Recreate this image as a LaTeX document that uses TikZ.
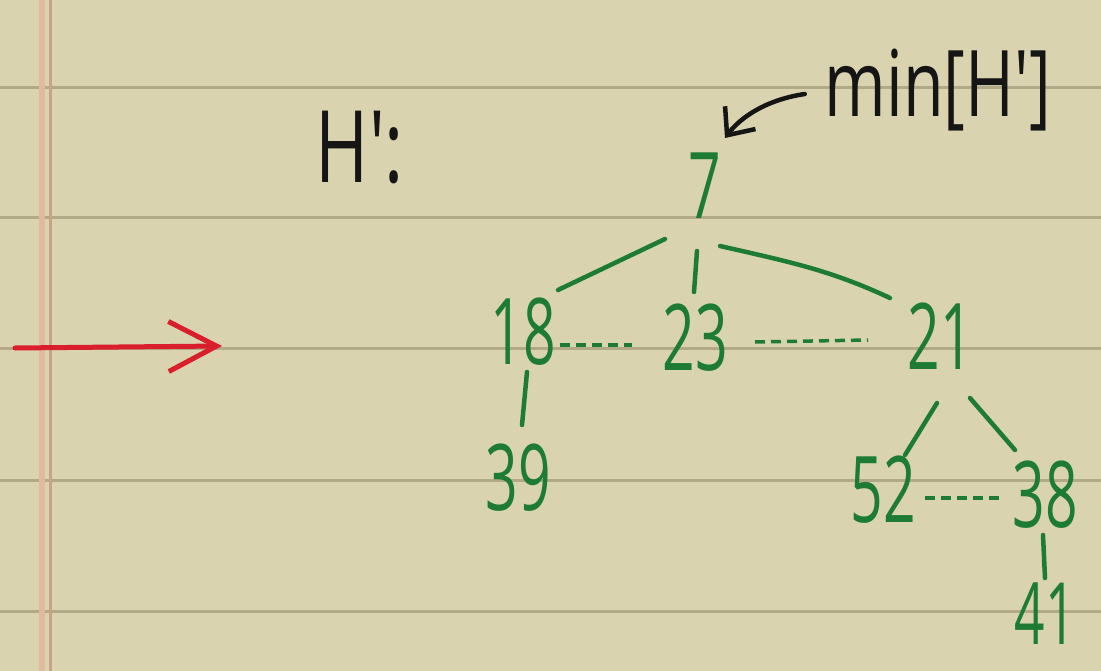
\documentclass[tikz,border=0pt]{standalone}
\usepackage{fontspec}
\setmainfont{Open Sans}[FakeStretch=0.62]
\newfontfamily\notefont{Open Sans}[FakeStretch=0.72]
\usetikzlibrary{arrows.meta,calc}
\definecolor{paper}{HTML}{D9D4AF}
\definecolor{rule}{HTML}{B2A988}
\definecolor{margA}{HTML}{E2B99C}
\definecolor{margB}{HTML}{C8A487}
\definecolor{ink}{HTML}{1E7B34}
\definecolor{redink}{HTML}{D91E2C}
\definecolor{blk}{HTML}{151515}
\tikzset{
  key/.style={text=ink, font=\fontsize{92}{92}\selectfont, inner sep=0pt},
  note/.style={text=blk, font=\notefont\fontsize{100}{100}\selectfont, inner sep=0pt},
  edge/.style={draw=ink, line width=4.5pt, line cap=round},
  sib/.style={draw=ink, line width=3.5pt, dash pattern=on 10pt off 6pt},
  ruleline/.style={draw=rule, line width=3pt}
}
\begin{document}
\begin{tikzpicture}[x=1pt,y=-1pt]
\fill[paper] (0,0) rectangle (1101,671);
\useasboundingbox (0,0) rectangle (1101,671);
% ruled lines
\foreach \yy in {88,218,348,480,611} \draw[ruleline] (0,\yy) -- (1101,\yy);
% margin
\draw[margA, line width=6pt] (42,0) -- (42,671);
\draw[margB, line width=3pt] (50,0) -- (50,671);
% red arrow
\coordinate (ra) at (15,348);
\coordinate (rb) at (222,346);
\draw[redink, line width=5pt, line cap=round, -{Straight Barb[length=48pt,width=50pt,line width=5pt]}] (ra) -- (rb);
% labels
\node[note] (H) at (360,148) {H':};
\node[note, font=\notefont\fontsize{92}{92}\selectfont] (min) at (938,90) {min[H']};
% keys
\node[key] (n7)  at (705,186) {7};
\node[key] (n18) at (523,332) {18};
\node[key] (n23) at (695,338) {23};
\node[key] (n21) at (940,336) {21};
\node[key] (n39) at (518,478) {39};
\node[key] (n52) at (883,490) {52};
\node[key] (n38) at (1045,495) {38};
\node[key, font=\fontsize{86}{86}\selectfont] (n41) at (1045,614) {41};
% min arrow
\coordinate (mtip) at ($(n7)+(20,-48)$);
\draw[blk, line width=4.5pt, line cap=round, -{Straight Barb[length=22pt,width=38pt,line width=4.5pt]}] ($(min.west)+(-20,4)$) .. controls (765,100) and (740,118) .. (mtip);
% tree edges
\draw[edge] ($(n7)+(-40,53)$) -- ($(n18)+(35,-42)$);
\draw[edge] ($(n7)+(-8,65)$) -- ($(n23)+(-1,-46)$);
\draw[edge] ($(n7)+(15,60)$) .. controls (790,262) and (830,270) .. ($(n21)+(-50,-38)$);
\draw[edge] ($(n18)+(4,40)$) -- ($(n39)+(4,-53)$);
\draw[edge] ($(n21)+(-3,67)$) -- ($(n52)+(22,-35)$);
\draw[edge] ($(n21)+(30,62)$) -- ($(n38)+(-30,-45)$);
\draw[edge] ($(n38)+(-2,40)$) -- ($(n41)+(0,-36)$);
% sibling links
\draw[sib] ($(n18)+(37,13)$) -- ($(n23)+(-63,7)$);
\draw[sib] ($(n23)+(60,4)$) -- ($(n21)+(-72,4)$);
\draw[sib] ($(n52)+(42,8)$) -- ($(n38)+(-45,3)$);
\end{tikzpicture}
\end{document}
